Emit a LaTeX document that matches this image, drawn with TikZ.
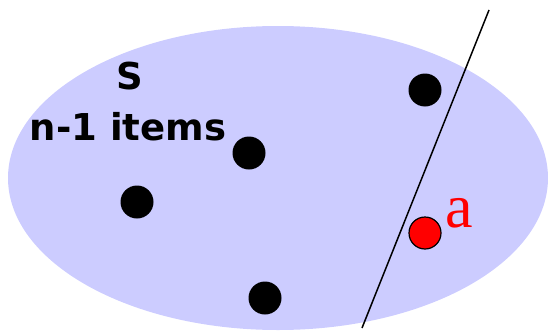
\documentclass[tikz,border=0pt]{standalone}
\usepackage{fontspec}
\newfontfamily\labelfont{DejaVu Sans}
\setmainfont{Liberation Serif}
\definecolor{setblue}{RGB}{204,204,255}
\tikzset{
	item/.style={circle, fill=black, minimum size=33pt, inner sep=0pt},
	pivot/.style={circle, fill=red, draw=black, line width=1.2pt, minimum size=32pt, inner sep=0pt},
	setlabel/.style={font=\labelfont\bfseries\fontsize{37}{40}\selectfont, inner sep=0pt, anchor=base}
}
\begin{document}
\begin{tikzpicture}[x=1pt, y=-1pt]
		\useasboundingbox (0, 0) rectangle (548, 332);
		
		% Set S
		\fill[setblue] (278, 178) ellipse (270 and 152);
		\node[setlabel] (s) at (130, 89) {S};
		\node[setlabel] (count) at (128, 140) {n-1 items};
		
		% Items
		\node[item] (i1) at (425, 90) {};
		\node[item] (i2) at (249, 153) {};
		\node[item] (i3) at (137, 202) {};
		\node[item] (i4) at (265, 298) {};
		
		% Splitting line
		\coordinate (top) at (489, 10);
		\coordinate (bottom) at (362, 328);
		\draw[line width=1.5pt] (top) -- (bottom);
		
		% New item a
		\node[pivot] (a) at (425, 233) {};
		\node[text=red, font=\fontsize{62}{64}\selectfont, inner sep=0pt, anchor=base] (alabel) at (459.5, 227) {a};
	\end{tikzpicture}
\end{document}
